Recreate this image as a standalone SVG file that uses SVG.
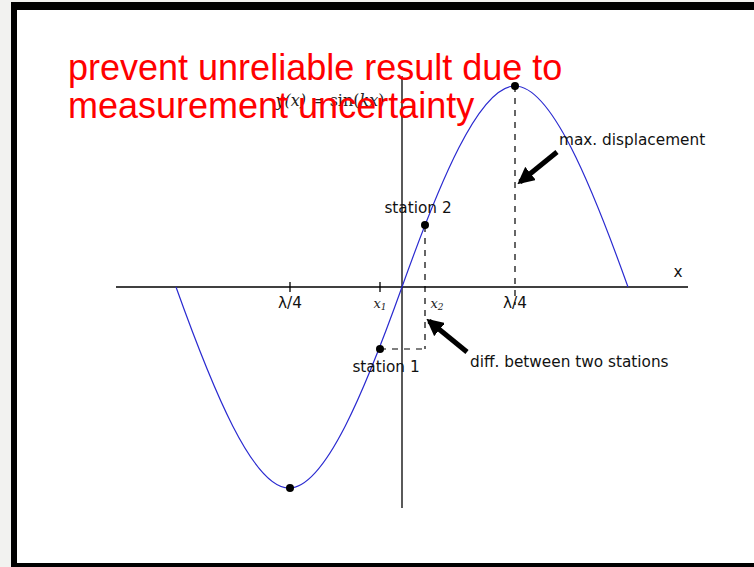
<svg xmlns="http://www.w3.org/2000/svg" width="754" height="567" viewBox="0 0 754 567">
<defs>
<style>
.lbl{font-family:"DejaVu Sans",sans-serif;font-size:15.3px;fill:#111}
.math{font-family:"DejaVu Serif","Liberation Serif",serif;font-style:italic;fill:#222}
.red{font-family:"Liberation Sans",Arial,sans-serif;font-size:36px;fill:#ff0000}
.axis{stroke:#000;stroke-width:1.3;fill:none}
.dash{stroke:#000;stroke-width:1.2;stroke-dasharray:6,6;fill:none}
.arrow{stroke:#000;stroke-width:5;fill:none}
</style>
<marker id="ah" viewBox="0 0 10 10" refX="8" refY="5" markerWidth="3.4" markerHeight="3.4" orient="auto" markerUnits="strokeWidth">
<path d="M0,0 L10,5 L0,10 z" fill="#000"/>
</marker>
</defs>
<rect x="0" y="0" width="754" height="567" fill="#f2f2f0"/>
<rect x="11" y="2" width="750" height="570" fill="#000"/>
<rect x="17" y="10" width="745" height="553" fill="#fff"/>
<g id="axes">
<line class="axis" x1="116" y1="287" x2="688" y2="287"/>
<line class="axis" x1="402" y1="76" x2="402" y2="508"/>
<line class="axis" x1="290" y1="282" x2="290" y2="292"/>
<line class="axis" x1="380" y1="282" x2="380" y2="292"/>
<text class="lbl" x="678" y="277" text-anchor="middle" font-size="18">x</text>
<text class="math" x="380" y="308" text-anchor="middle" font-size="13">x<tspan font-size="9" dy="2">1</tspan></text>
<text class="math" x="437" y="308" text-anchor="middle" font-size="13">x<tspan font-size="9" dy="2">2</tspan></text>
<text class="lbl" x="290" y="308" text-anchor="middle">λ/4</text>
<text class="lbl" x="515" y="308" text-anchor="middle">λ/4</text>
<text class="math" x="330" y="106" text-anchor="middle" font-size="16" fill="#555">y(x)<tspan font-style="normal"> = sin(</tspan>kx<tspan font-style="normal">)</tspan></text>
</g>
<g id="curve">
<path id="sine" fill="none" stroke="#2a2ad0" stroke-width="1.2" d="M176,287 C212.9,390.1 253,488 289,488 C325,488 365.1,390.1 402,287 C438.9,183.9 479,86 515,86 C551,86 591.1,183.9 628,287"/>
</g>
<g id="connectors">
<line class="dash" x1="425" y1="226" x2="425" y2="349"/>
<line class="dash" x1="380" y1="349" x2="425" y2="349"/>
<line class="dash" x1="515" y1="86" x2="515" y2="305"/>
<line class="arrow" x1="557" y1="152" x2="520" y2="182" marker-end="url(#ah)"/>
<line class="arrow" x1="467" y1="352" x2="429" y2="321" marker-end="url(#ah)"/>
</g>
<g id="station2">
<circle cx="425" cy="225" r="4" fill="#000"/>
<text class="lbl" x="418" y="213" text-anchor="middle">station 2</text>
</g>
<g id="station1">
<circle cx="380" cy="349" r="4" fill="#000"/>
<text class="lbl" x="386" y="372" text-anchor="middle">station 1</text>
</g>
<g id="peak">
<circle cx="515" cy="86" r="4" fill="#000"/>
<text class="lbl" x="559" y="145">max. displacement</text>
</g>
<g id="trough">
<circle cx="290" cy="488" r="4" fill="#000"/>
</g>
<g id="diff">
<text class="lbl" x="470" y="367">diff. between two stations</text>
</g>
<g id="title">
<text class="red" x="68" y="80">prevent unreliable result due to</text>
<text class="red" x="68" y="118">measurement uncertainty</text>
</g>
</svg>
